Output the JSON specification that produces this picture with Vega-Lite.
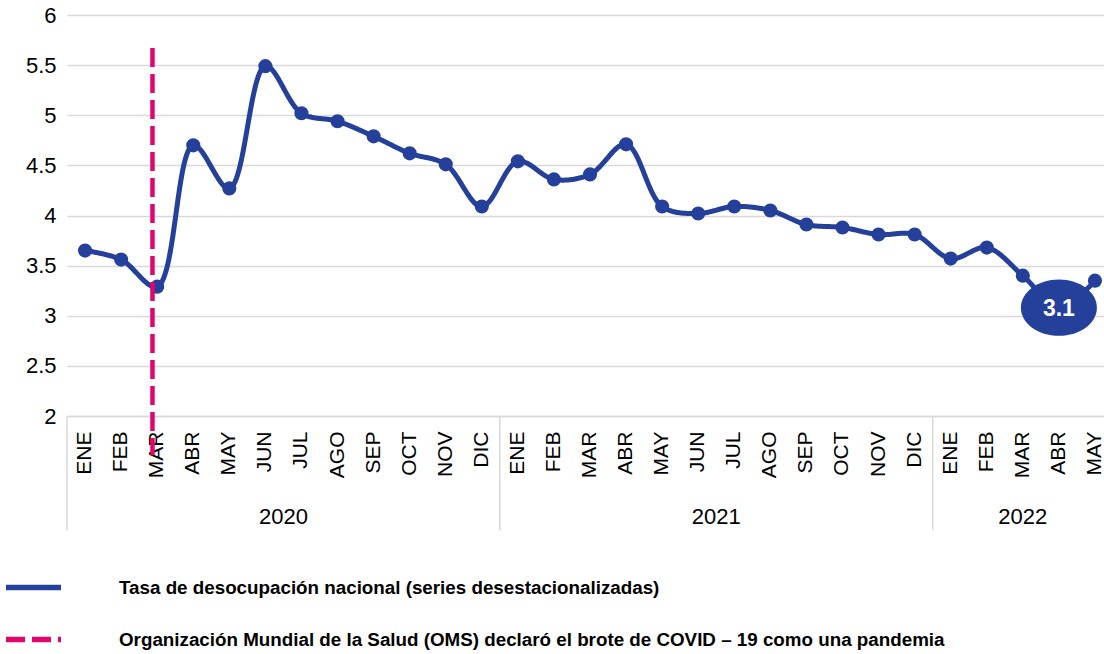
{
  "$schema": "https://vega.github.io/schema/vega-lite/v6.json",
  "autosize": "none",
  "width": 1037,
  "height": 401,
  "padding": {"left": 67, "top": 15, "right": 0, "bottom": 238},
  "background": "white",
  "config": {
    "view": {"stroke": null},
    "font": "Liberation Sans",
    "legend": {
      "orient": "none",
      "legendX": -64,
      "legendY": 542,
      "padding": 0,
      "title": null,
      "symbolType": "stroke",
      "symbolSize": 3025,
      "symbolStrokeWidth": 5.5,
      "labelOffset": 55,
      "labelFont": "Liberation Sans",
      "labelFontSize": 18.8,
      "labelFontWeight": "bold",
      "labelColor": "#000000",
      "labelLimit": 1100,
      "rowPadding": 10
    }
  },
  "datasets": {
    "serie": [
      {"periodo": "ENE 2020", "valor": 3.65},
      {"periodo": "FEB 2020", "valor": 3.56},
      {"periodo": "MAR 2020", "valor": 3.29},
      {"periodo": "ABR 2020", "valor": 4.70},
      {"periodo": "MAY 2020", "valor": 4.27},
      {"periodo": "JUN 2020", "valor": 5.49},
      {"periodo": "JUL 2020", "valor": 5.02},
      {"periodo": "AGO 2020", "valor": 4.94},
      {"periodo": "SEP 2020", "valor": 4.79},
      {"periodo": "OCT 2020", "valor": 4.62},
      {"periodo": "NOV 2020", "valor": 4.51},
      {"periodo": "DIC 2020", "valor": 4.09},
      {"periodo": "ENE 2021", "valor": 4.54},
      {"periodo": "FEB 2021", "valor": 4.36},
      {"periodo": "MAR 2021", "valor": 4.41},
      {"periodo": "ABR 2021", "valor": 4.71},
      {"periodo": "MAY 2021", "valor": 4.09},
      {"periodo": "JUN 2021", "valor": 4.02},
      {"periodo": "JUL 2021", "valor": 4.09},
      {"periodo": "AGO 2021", "valor": 4.05},
      {"periodo": "SEP 2021", "valor": 3.91},
      {"periodo": "OCT 2021", "valor": 3.88},
      {"periodo": "NOV 2021", "valor": 3.81},
      {"periodo": "DIC 2021", "valor": 3.81},
      {"periodo": "ENE 2022", "valor": 3.57},
      {"periodo": "FEB 2022", "valor": 3.68},
      {"periodo": "MAR 2022", "valor": 3.40},
      {"periodo": "ABR 2022", "valor": 3.08},
      {"periodo": "MAY 2022", "valor": 3.35}
    ]
  },
  "layer": [
    {
      "data": {"values": [{"periodo": "ENE 2020"}, {"periodo": "ENE 2021"}, {"periodo": "ENE 2022"}]},
      "mark": {"type": "rule", "color": "#d9d9d9", "strokeWidth": 1.5, "clip": false},
      "encoding": {
        "x": {"field": "periodo", "type": "nominal", "bandPosition": 0},
        "y": {"datum": 2},
        "y2": {"datum": 0.86}
      }
    },
    {
      "data": {"values": [{"periodo": "JUN 2020", "anio": "2020"}, {"periodo": "JUN 2021", "anio": "2021"}]},
      "mark": {"type": "text", "fontSize": 22, "color": "#000000", "baseline": "middle", "align": "center"},
      "encoding": {
        "x": {"field": "periodo", "type": "nominal", "bandPosition": 1},
        "y": {"datum": 0.99},
        "text": {"field": "anio"}
      }
    },
    {
      "data": {"values": [{"periodo": "MAR 2022", "anio": "2022"}]},
      "mark": {"type": "text", "fontSize": 22, "color": "#000000", "baseline": "middle", "align": "center"},
      "encoding": {
        "x": {"field": "periodo", "type": "nominal", "bandPosition": 0.5},
        "y": {"datum": 0.99},
        "text": {"field": "anio"}
      }
    },
    {
      "data": {"name": "serie"},
      "transform": [{"calculate": "'Tasa de desocupación nacional (series desestacionalizadas)'", "as": "serie"}],
      "mark": {"type": "line", "interpolate": "catmull-rom", "strokeWidth": 5, "strokeCap": "round", "strokeJoin": "round"},
      "encoding": {
        "x": {
          "field": "periodo",
          "type": "nominal",
          "scale": {
            "type": "band",
            "paddingInner": 0,
            "paddingOuter": 0,
            "range": [0, 1046],
            "domain": ["ENE 2020", "FEB 2020", "MAR 2020", "ABR 2020", "MAY 2020", "JUN 2020", "JUL 2020", "AGO 2020", "SEP 2020", "OCT 2020", "NOV 2020", "DIC 2020", "ENE 2021", "FEB 2021", "MAR 2021", "ABR 2021", "MAY 2021", "JUN 2021", "JUL 2021", "AGO 2021", "SEP 2021", "OCT 2021", "NOV 2021", "DIC 2021", "ENE 2022", "FEB 2022", "MAR 2022", "ABR 2022", "MAY 2022"]
          },
          "axis": {
            "title": null,
            "labelExpr": "split(datum.label, ' ')[0]",
            "labelAngle": -90,
            "labelAlign": "right",
            "labelBaseline": "middle",
            "labelFontSize": 21,
            "labelColor": "#000000",
            "labelPadding": 15,
            "ticks": false,
            "grid": false,
            "domain": true,
            "domainColor": "#d9d9d9",
            "domainWidth": 1.5,
            "labelOverlap": false
          }
        },
        "y": {
          "field": "valor",
          "type": "quantitative",
          "scale": {"domain": [2, 6], "zero": false, "nice": false},
          "axis": {
            "title": null,
            "values": [2, 2.5, 3, 3.5, 4, 4.5, 5, 5.5, 6],
            "format": "~g",
            "grid": true,
            "gridColor": "#d9d9d9",
            "gridWidth": 1.5,
            "domain": false,
            "ticks": false,
            "labelFontSize": 22,
            "labelColor": "#000000",
            "labelPadding": 11
          }
        },
        "color": {
          "field": "serie",
          "type": "nominal",
          "scale": {
            "domain": ["Tasa de desocupación nacional (series desestacionalizadas)", "Organización Mundial de la Salud (OMS) declaró el brote de COVID – 19 como una pandemia"],
            "range": ["#24409A", "#E0066E"]
          }
        },
        "strokeDash": {
          "field": "serie",
          "type": "nominal",
          "scale": {
            "domain": ["Tasa de desocupación nacional (series desestacionalizadas)", "Organización Mundial de la Salud (OMS) declaró el brote de COVID – 19 como una pandemia"],
            "range": [[1, 0], [19, 7]]
          }
        }
      }
    },
    {
      "data": {"name": "serie"},
      "mark": {"type": "point", "filled": true, "shape": "circle", "size": 200, "color": "#24409A", "opacity": 1},
      "encoding": {
        "x": {"field": "periodo", "type": "nominal"},
        "y": {"field": "valor", "type": "quantitative"}
      }
    },
    {
      "data": {"values": [{"periodo": "MAR 2020", "serie": "Organización Mundial de la Salud (OMS) declaró el brote de COVID – 19 como una pandemia"}]},
      "mark": {"type": "rule", "strokeWidth": 4.5, "clip": false},
      "encoding": {
        "x": {"field": "periodo", "type": "nominal", "bandPosition": 0.37},
        "y": {"datum": 5.67},
        "y2": {"datum": 1.61},
        "color": {"field": "serie", "type": "nominal"},
        "strokeDash": {"field": "serie", "type": "nominal"}
      }
    },
    {
      "data": {"values": [{"periodo": "ABR 2022", "valor": 3.08, "etiqueta": "3.1"}]},
      "mark": {"type": "point", "filled": true, "opacity": 1, "color": "#24409A", "size": 5776, "shape": "M -1 0 A 1 0.74 0 1 1 1 0 A 1 0.74 0 1 1 -1 0 Z"},
      "encoding": {
        "x": {"field": "periodo", "type": "nominal"},
        "y": {"field": "valor", "type": "quantitative"}
      }
    },
    {
      "data": {"values": [{"periodo": "ABR 2022", "valor": 3.08, "etiqueta": "3.1"}]},
      "mark": {"type": "text", "fontSize": 23, "fontWeight": "bold", "color": "#ffffff", "baseline": "middle", "align": "center", "dy": 1},
      "encoding": {
        "x": {"field": "periodo", "type": "nominal"},
        "y": {"field": "valor", "type": "quantitative"},
        "text": {"field": "etiqueta"}
      }
    }
  ]
}
